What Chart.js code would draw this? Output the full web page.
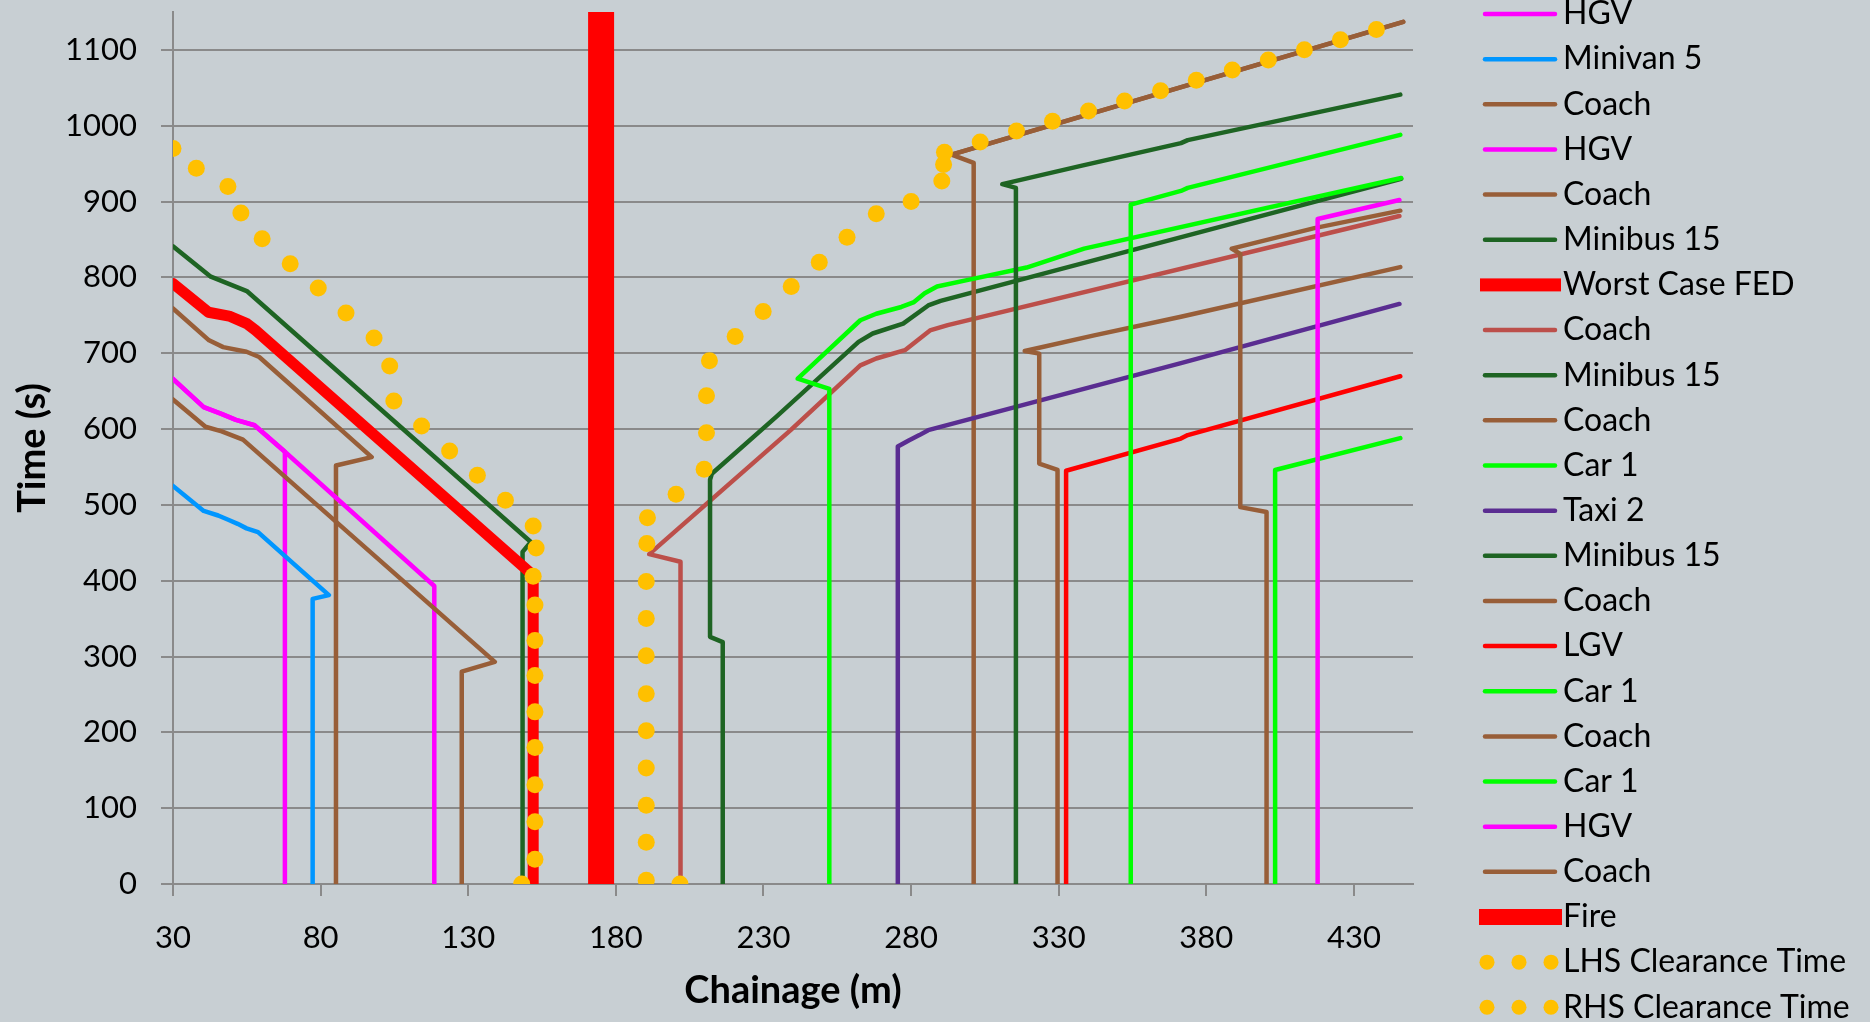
<!DOCTYPE html>
<html>
<head>
<meta charset="utf-8">
<script src="https://cdn.jsdelivr.net/npm/chart.js@4.4.1/dist/chart.umd.min.js"></script>
<style>
    html, body { margin: 0; padding: 0; background: #c8cfd3; overflow: hidden; }
    #wrap { width: 1870px; height: 1022px; }
</style>
</head>
<body>
<div id="wrap"><canvas id="chartTime" width="1870" height="1022"></canvas></div>
<script>

// legend labels, in series order
const seriesLabels = ['HGV', 'Minivan 5', 'Coach', 'HGV', 'Coach', 'Minibus 15', 'Worst Case FED', 'Coach', 'Minibus 15', 'Coach',
    'Car 1', 'Taxi 2', 'Minibus 15', 'Coach', 'LGV', 'Car 1', 'Coach', 'Car 1', 'HGV', 'Coach', 'Fire',
    'LHS Clearance Time', 'RHS Clearance Time']

// axis ticks
const xTickLabels = [30, 80, 130, 180, 230, 280, 330, 380, 430]
const yTickLabels = [0, 100, 200, 300, 400, 500, 600, 700, 800, 900, 1000, 1100]

// left side (chainage m / time s)
const hgvAX = [30, 40.4, 46.4, 51.3, 57.6, 67.9, 67.9]
const hgvAY = [666, 629, 620, 612, 605, 570, 0]
const minivanX = [30, 40.4, 45.3, 48.9, 51.9, 54.9, 58.8, 82.8, 77.3, 77.3]
const minivanY = [525, 492, 486, 480, 475, 469, 464, 381, 376, 0]
const coachAX = [30, 42.2, 47, 54.9, 59.2, 97.3, 85.2, 85.2]
const coachAY = [759, 717, 708, 702, 695, 563, 552, 0]
const hgvBX = [30, 40.4, 46.4, 51.3, 57.6, 67.9, 118.5, 118.5]
const hgvBY = [666, 629, 620, 612, 605, 570, 393, 0]
const coachBX = [30, 41, 46.5, 53.7, 139, 127.8, 127.8]
const coachBY = [639, 603, 597, 586, 293, 280, 0]
const minibusAX = [30, 42.8, 55, 151.2, 148.4, 148.4]
const minibusAY = [841, 801, 782, 451, 438, 0]
const fedX = [30, 42, 49, 55, 58, 152, 152]
const fedY = [792, 754, 749, 739, 730, 407, 0]

// right side
const coachCX = [201.9, 201.9, 191.3, 239.2, 262.8, 268.2, 277.9, 286.4, 292.4, 445.4]
const coachCY = [0, 425, 435, 598.5, 684, 693, 704, 730, 737, 881]
const minibusBX = [216.2, 216.2, 211.9, 211.9, 212.5, 234.3, 262.2, 267, 277.3, 285.8, 290, 446]
const minibusBY = [0, 319, 326, 533, 541, 616, 715, 726, 739, 763, 769, 930]
const coachDX = [301.2, 301.2, 293.7, 446.7]
const coachDY = [0, 951, 962, 1137]
const carAX = [252.3, 252.3, 241.6, 262.8, 268.2, 276.7, 281, 284.6, 288.8, 299.7, 319.1, 338.6, 446]
const carAY = [0, 653, 666.5, 743.5, 752, 761, 767.5, 779, 788, 797, 813, 838, 931]
const taxiX = [275.5, 275.5, 279.2, 282.8, 285.8, 371.4, 445.4]
const taxiY = [0, 577, 585, 592, 598.5, 687, 765]
const minibusCX = [315.5, 315.5, 310.9, 337.5, 371.4, 373.7, 445.7]
const minibusCY = [0, 918, 923, 947, 977, 981, 1041]
const coachEX = [329.6, 329.6, 323.4, 323.4, 318.5, 342, 371.4, 445.7]
const coachEY = [0, 546, 554.5, 699.5, 703, 723.6, 748, 813.6]
const lgvX = [332.5, 332.5, 371.4, 373.7, 445.7]
const lgvY = [0, 545, 587.4, 592, 669.6]
const carBX = [354.4, 354.4, 371.4, 373.7, 445.7]
const carBY = [0, 896, 914, 918, 988]
const coachFX = [400.4, 400.4, 391.5, 391.5, 388.6, 416.6, 445.7]
const coachFY = [0, 490.6, 497, 831, 838, 865, 888]
const carCX = [403.3, 403.3, 445.7]
const carCY = [0, 546, 588]
const hgvCX = [417.7, 417.7, 445.4]
const hgvCY = [0, 877, 902]
const coachGX = [293.7, 446.7]
const coachGY = [962, 1137]

const fireX = [175, 175]
const fireY = [0, 1150]

const lhsX = [30, 37.9, 48.6, 53, 60.2, 69.7, 79.2, 88.6, 98.1, 103.4, 104.8, 114.2, 123.7, 133.1, 142.6, 152, 153, 152,
    152.6, 152.6, 152.6, 152.6, 152.6, 152.6, 152.6, 152.6, 148.1]
const lhsY = [970, 944, 920, 885, 851, 818, 786, 753, 720, 683, 637, 604, 571, 539, 506, 472, 443, 406,
    368, 321, 275, 227, 180, 131, 82, 32.5, 0]
const rhsX = [201.7, 190.3, 190.3, 190.3, 190.3, 190.3, 190.3, 190.3, 190.3, 190.3, 190.5, 190.7, 200.4, 209.9, 210.7, 210.7,
    211.7, 220.4, 229.9, 239.4, 248.9, 258.3, 268.2, 280, 290.4, 291, 291.3, 303.4, 315.7, 327.9, 340.1, 352.3, 364.5,
    376.6, 388.8, 401, 413.2, 425.4, 437.6]
const rhsY = [0, 5, 55, 104, 153, 202, 251, 301, 350, 399, 449, 483, 514, 547, 595, 644,
    690, 722, 755, 788, 820, 853, 884, 900, 927, 949, 965, 978.5, 993, 1006, 1019.4, 1032.5, 1046,
    1060, 1073.4, 1086.6, 1100.3, 1113.4, 1127]

const seriesX = [hgvAX, minivanX, coachAX, hgvBX, coachBX, minibusAX, fedX, coachCX, minibusBX, coachDX,
    carAX, taxiX, minibusCX, coachEX, lgvX, carBX, coachFX, carCX, hgvCX, coachGX, fireX, lhsX, rhsX]
const seriesY = [hgvAY, minivanY, coachAY, hgvBY, coachBY, minibusAY, fedY, coachCY, minibusBY, coachDY,
    carAY, taxiY, minibusCY, coachEY, lgvY, carBY, coachFY, carCY, hgvCY, coachGY, fireY, lhsY, rhsY]

// styles
const magenta = '#ff00ff', brown = '#985e38', green = '#1e6423', lime = '#00ff00', red = '#ff0000', gold = '#ffc000'
const seriesColors = [magenta, '#0096ff', brown, magenta, brown, green, red, '#bc4f4a', green, brown,
    lime, '#5a2d91', green, brown, red, lime, brown, lime, magenta, brown, red, gold, gold]
const seriesKinds = seriesLabels.map((l, i) => i === 6 ? 'thick' : i === 20 ? 'bar' : i >= 21 ? 'dots' : 'line')

const gridColor = '#8a8a8a'
const fontFamily = 'Lato'

const datasets = seriesLabels.map((label, i) => {
    const kind = seriesKinds[i]
    const data = seriesX[i].map((x, k) => ({ x: x, y: seriesY[i][k] }))
    const ds = {
        label, data, kind,
        order: seriesLabels.length - i, // later series on top, like excel
        borderColor: seriesColors[i],
        backgroundColor: seriesColors[i]
    }
    if (kind === 'dots') {
        Object.assign(ds, { showLine: false, pointRadius: 8.5, pointBorderWidth: 0, pointHoverRadius: 8.5, clip: 0 })
    } else {
        Object.assign(ds, {
            showLine: true,
            pointRadius: 0,
            pointHoverRadius: 0,
            borderWidth: kind === 'bar' ? 26 : kind === 'thick' ? 11 : 4.5,
            borderCapStyle: kind === 'bar' ? 'butt' : 'round',
            borderJoinStyle: 'round',
            tension: 0
        })
    }
    return ds
})

// legend on the right, drawn by hand (it runs off the canvas like the original)
const sideLegend = {
    id: 'sideLegend',
    afterDraw(chart) {
        const ctx = chart.ctx
        ctx.save()
        ctx.font = '32px ' + fontFamily
        ctx.textBaseline = 'middle'
        chart.data.datasets.forEach((ds, i) => {
            const y = 14 + i * 45.15
            ctx.fillStyle = ds.borderColor
            ctx.strokeStyle = ds.borderColor
            if (ds.kind === 'dots') {
                [1487, 1519, 1551].forEach(cx => {
                    ctx.beginPath()
                    ctx.arc(cx, y, 7.5, 0, Math.PI * 2)
                    ctx.fill()
                })
            } else if (ds.kind === 'bar') {
                ctx.fillRect(1479, y - 8, 83, 16)
            } else if (ds.kind === 'thick') {
                ctx.fillRect(1480, y - 6.5, 81, 13)
            } else {
                ctx.lineWidth = 4.5
                ctx.lineCap = 'round'
                ctx.beginPath()
                ctx.moveTo(1485, y)
                ctx.lineTo(1555, y)
                ctx.stroke()
            }
            ctx.fillStyle = '#000'
            ctx.fillText(ds.label, 1563, y)
        })
        ctx.restore()
    }
}

new Chart(document.getElementById('chartTime'), {
    type: 'scatter',
    data: { datasets },
    plugins: [sideLegend],
    options: {
        responsive: false,
        animation: false,
        devicePixelRatio: 1,
        events: [],
        layout: { padding: { left: 0, top: 12, right: 457, bottom: 0 } },
        plugins: {
            legend: { display: false },
            tooltip: { enabled: false }
        },
        scales: {
            x: {
                type: 'linear',
                min: 30,
                max: 450,
                afterBuildTicks: s => { s.ticks = xTickLabels.map(v => ({ value: v })) },
                afterFit: s => { s.height = 138; s.paddingLeft = 0; s.paddingRight = 0 },
                grid: { drawOnChartArea: false, drawTicks: true, tickLength: 12, color: gridColor, lineWidth: 2 },
                border: { color: gridColor, width: 2 },
                ticks: { color: '#000', font: { family: fontFamily, size: 31 }, padding: 23, maxRotation: 0, autoSkip: false, callback: v => String(v) },
                title: {
                    display: true, text: 'Chainage (m)', color: '#000',
                    font: { family: fontFamily, size: 38, weight: 'bold' },
                    padding: { top: 0, bottom: 8 }
                }
            },
            y: {
                type: 'linear',
                min: 0,
                max: 1150,
                afterBuildTicks: s => { s.ticks = yTickLabels.map(v => ({ value: v })) },
                afterFit: s => { s.width = 173; s.paddingTop = 0; s.paddingBottom = 0 },
                grid: { color: gridColor, lineWidth: 2, tickLength: 12 },
                border: { color: gridColor, width: 2 },
                ticks: { color: '#000', font: { family: fontFamily, size: 31 }, padding: 24, autoSkip: false, callback: v => String(v) },
                title: {
                    display: true, text: 'Time (s)', color: '#000',
                    font: { family: fontFamily, size: 38, weight: 'bold' },
                    padding: { top: 10, bottom: 0 }
                }
            }
        }
    }
})

</script>
</body>
</html>
